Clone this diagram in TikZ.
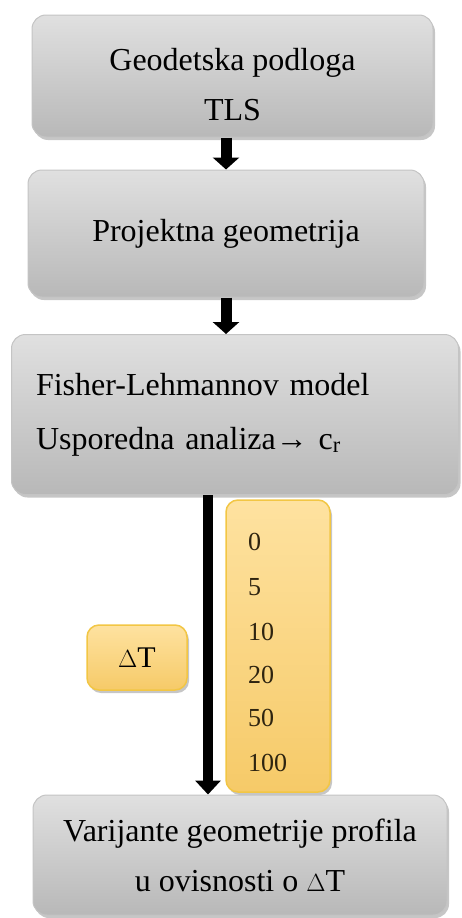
\documentclass[tikz,border=0pt]{standalone}
\usepackage{fontspec}
\setmainfont{Liberation Serif}
\usetikzlibrary{shadows,arrows.meta,calc}
\definecolor{gtop}{HTML}{E0E0E0}
\definecolor{gbot}{HTML}{B8B8B8}
\definecolor{gedge}{HTML}{C4C4C4}
\definecolor{ytop}{HTML}{FEE2A0}
\definecolor{ybot}{HTML}{F6CA68}
\definecolor{yedge}{HTML}{F2C644}
\definecolor{numc}{HTML}{2E2410}
\tikzset{
  graybox/.style={rectangle, rounded corners=14pt, draw=gedge, line width=1pt,
    top color=gtop, bottom color=gbot, drop shadow={shadow xshift=2pt, shadow yshift=-3pt, opacity=0.45},
    inner sep=0pt, font=\fontsize{32}{50}\selectfont},
  yelbox/.style={rectangle, rounded corners=12pt, draw=yedge, line width=1.5pt,
    top color=ytop, bottom color=ybot, drop shadow={shadow xshift=2pt, shadow yshift=-3pt, opacity=0.45},
    inner sep=0pt},
  arr/.style={line width=11pt, -{Triangle[width=26pt,length=12pt]}},
  longarr/.style={line width=10pt, -{Triangle[width=25pt,length=14pt]}}
}
\begin{document}
\begin{tikzpicture}[x=1pt,y=-1pt]
\useasboundingbox (0,0) rectangle (461,918);
\node[graybox, minimum width=401pt, minimum height=122pt] (b1) at (232.5,76)
  {\raisebox{-16pt}[0pt][0pt]{\begin{tabular}{@{}c@{}}Geodetska podloga\\TLS\end{tabular}}};
\node[graybox, minimum width=396pt, minimum height=127pt, align=center] (b2) at (226,233.5) {Projektna geometrija};
\node[graybox, minimum width=447pt, minimum height=160pt, align=left, text width=398pt] (b3) at (235,414.5)
  {Fisher-Lehmannov model\\[4pt]Usporedna analiza\textrightarrow\ c\textsubscript{r}};
\node[yelbox, minimum width=104pt, minimum height=292pt] (y1) at (278,646) {};
\node[yelbox, minimum width=100pt, minimum height=65pt, font=\fontsize{30}{34}\selectfont] (dt) at (137,657.5) {$\Delta$T};
\node[graybox, minimum width=414pt, minimum height=120pt, align=center] (b4) at (240,855) {Varijante geometrije profila\\u ovisnosti o $\Delta$T};
\foreach \v/\yy [count=\i] in {0/542,5/587,10/632,20/675,50/718,100/763}
  \node[anchor=west, inner sep=0pt, text=numc, font=\fontsize{26}{26}\selectfont] (n\i) at (248,\yy) {\v};
\coordinate (la) at (208,0);
\draw[arr] (b1.south -| b2.north) -- (b2.north);
\draw[arr] (b2.south) -- (b2.south |- b3.north);
\draw[longarr] (b3.south -| la) -- (b4.north -| la);
\end{tikzpicture}
\end{document}
